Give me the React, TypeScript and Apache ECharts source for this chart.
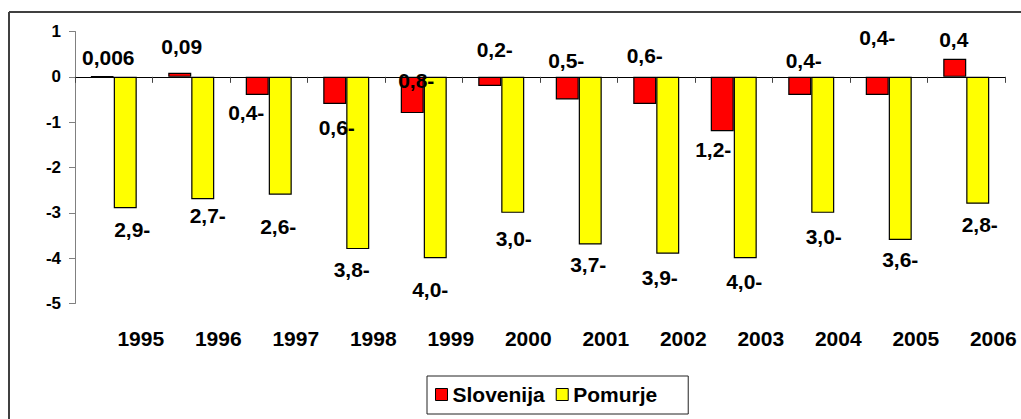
import React, { useEffect, useRef } from "react";
import * as echarts from "echarts";

const years = ["1995", "1996", "1997", "1998", "1999", "2000", "2001", "2002", "2003", "2004", "2005", "2006"];
const slovenija = [0.006, 0.09, -0.4, -0.6, -0.8, -0.2, -0.5, -0.6, -1.2, -0.4, -0.4, 0.4];
const pomurje = [-2.9, -2.7, -2.6, -3.8, -4.0, -3.0, -3.7, -3.9, -4.0, -3.0, -3.6, -2.8];
const yTicks = { min: -5, max: 1, interval: 1 };

// label displacement (px) relative to the bar anchor, as placed in the original chart
const slovLabelShift = [[6, -18.5], [2, -26.7], [-11, 36], [2, 51], [4, 4], [5, -27], [-1, -16], [0, -21], [-9, 73], [4, -16], [0, -39], [-1, -19]];
const pomLabelShift = [[7, 21], [5, 16], [-2, 32], [-6, 20], [-5, 31], [1, 26], [-2, 19.5], [-8, 23.5], [-1, 23], [1, 24], [0, 19], [2, 21]];

const FONT = '"Liberation Sans", Arial, sans-serif';

function fmtSlov(v: number): string {
  const s = String(Math.abs(v)).replace(".", ",");
  return v < 0 ? s + "-" : s;
}
function fmtPom(v: number): string {
  const s = Math.abs(v).toFixed(1).replace(".", ",");
  return v < 0 ? s + "-" : s;
}

export default function App() {
  const ref = useRef<HTMLDivElement>(null);
  useEffect(() => {
    if (!ref.current) return;
    const chart = echarts.init(ref.current, null, { renderer: "svg" });
    const labelBase = {
      show: true,
      distance: 0,
      align: "center",
      verticalAlign: "middle",
      color: "#000",
      fontFamily: FONT,
      fontWeight: "bold",
      fontSize: 21,
    };
    chart.setOption({
      animation: false,
      backgroundColor: "#fff",
      grid: { left: 75, right: 16, top: 31.5, bottom: 115.5 },
      legend: {
        left: 427,
        top: 376,
        orient: "horizontal",
        itemWidth: 12,
        itemHeight: 12,
        itemGap: 11,
        padding: [8, 31, 9, 8],
        borderColor: "#222",
        borderWidth: 1,
        backgroundColor: "#fff",
        icon: "rect",
        itemStyle: { borderColor: "#000", borderWidth: 1 },
        textStyle: { fontFamily: FONT, fontWeight: "bold", fontSize: 21, color: "#000" },
        data: ["Slovenija", "Pomurje"],
      },
      xAxis: [
        {
          type: "category",
          data: years,
          axisLine: { show: true, onZero: true, lineStyle: { color: "#000", width: 1 } },
          axisTick: { show: true, length: 6, lineStyle: { color: "#444" } },
          axisLabel: { show: false },
          splitLine: { show: false },
        },
        {
          type: "category",
          data: years,
          position: "bottom",
          axisLine: { show: false, onZero: false },
          axisTick: { show: false },
          splitLine: { show: false },
          axisLabel: {
            interval: 0,
            margin: 24,
            padding: [0, 0, 0, 54],
            fontFamily: FONT,
            fontWeight: "bold",
            fontSize: 21,
            color: "#000",
          },
        },
      ],
      yAxis: {
        type: "value",
        min: yTicks.min,
        max: yTicks.max,
        interval: yTicks.interval,
        axisLine: { show: true, lineStyle: { color: "#808080", width: 1 } },
        axisTick: { show: true, length: 6, lineStyle: { color: "#808080" } },
        splitLine: { show: false },
        axisLabel: {
          margin: 14,
          fontFamily: FONT,
          fontWeight: "bold",
          fontSize: 17,
          color: "#000",
        },
      },
      series: [
        {
          name: "Slovenija",
          type: "bar",
          xAxisIndex: 0,
          barWidth: 23,
          barGap: "0%",
          itemStyle: { color: "#FF0000", borderColor: "#000", borderWidth: 1.2 },
          data: slovenija.map((v, i) => ({
            value: v,
            label: { ...labelBase, position: "top", offset: slovLabelShift[i], formatter: () => fmtSlov(v) },
          })),
        },
        {
          name: "Pomurje",
          type: "bar",
          xAxisIndex: 0,
          barWidth: 23,
          barGap: "0%",
          itemStyle: { color: "#FFFF00", borderColor: "#000", borderWidth: 1.2 },
          data: pomurje.map((v, i) => ({
            value: v,
            label: { ...labelBase, position: "bottom", offset: pomLabelShift[i], formatter: () => fmtPom(v) },
          })),
        },
      ],
      graphic: [
        { type: "line", shape: { x1: 9, y1: 12, x2: 1021, y2: 12 }, style: { stroke: "#404040", lineWidth: 2 } },
        { type: "line", shape: { x1: 9, y1: 12, x2: 9, y2: 419 }, style: { stroke: "#404040", lineWidth: 2 } },
      ],
    });
    return () => chart.dispose();
  }, []);
  return (
    <div
      ref={ref}
      style={{ position: "absolute", left: 0, top: 0, width: 1021, height: 419 }}
    />
  );
}
